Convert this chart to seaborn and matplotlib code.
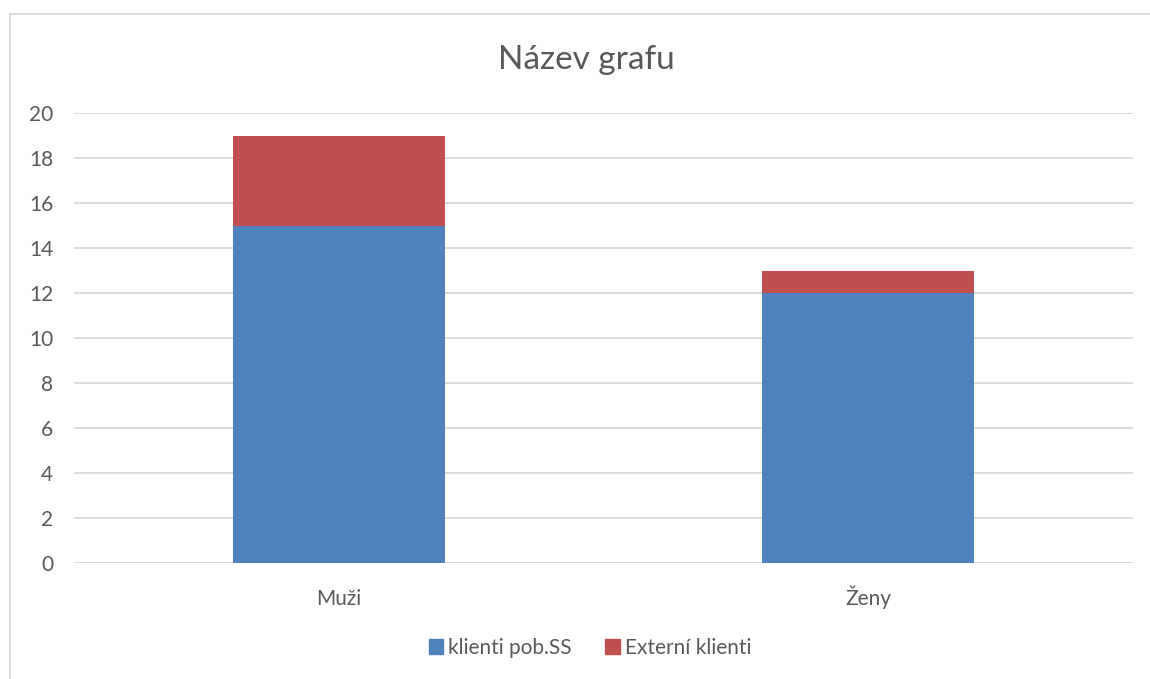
import matplotlib
matplotlib.use("Agg")
import matplotlib.pyplot as plt
import seaborn as sns
import pandas as pd
from matplotlib.patches import Rectangle

categories = ["Muži", "Ženy"]
klienti_pob = [15, 12]
externi = [4, 1]
series_names = ["klienti pob.SS", "Externí klienti"]
yticks = [0, 2, 4, 6, 8, 10, 12, 14, 16, 18, 20]

sns.set_theme(style="white")
plt.rcParams['font.family'] = ['Lato', 'DejaVu Sans']

blue = "#4F81BD"
red = "#C0504D"
txt = "#595959"
grid = "#D9D9D9"

fig = plt.figure(figsize=(11.5, 6.79), dpi=100)
ax = fig.add_axes([74/1150, 1-563/679, (1133-74)/1150, (563-113)/679])

totals = [a + b for a, b in zip(klienti_pob, externi)]
df_tot = pd.DataFrame({"cat": categories, "val": totals})
df_blue = pd.DataFrame({"cat": categories, "val": klienti_pob})

sns.barplot(data=df_tot, x="cat", y="val", color=red, width=0.4, ax=ax,
            saturation=1, zorder=3, linewidth=0)
sns.barplot(data=df_blue, x="cat", y="val", color=blue, width=0.4, ax=ax,
            saturation=1, zorder=4, linewidth=0)
if ax.get_legend() is not None:
    ax.get_legend().remove()

ax.set_ylim(0, 20)
ax.set_xlim(-0.5, 1.5)
ax.set_yticks(yticks)
ax.yaxis.grid(True, color=grid, linewidth=1.3, zorder=0)
ax.set_axisbelow(True)
for s in ax.spines.values():
    s.set_visible(False)
ax.set_xlabel("")
ax.set_ylabel("")
ax.tick_params(axis="both", length=0, colors=txt, labelsize=15)
ax.tick_params(axis="x", pad=30)
ax.tick_params(axis="y", pad=15)
for lab in ax.get_xticklabels():
    lab.set_va("baseline")

fig.text(586/1150, 1-60/679, "Název grafu", ha="center", va="center",
         fontsize=24, color=txt)

hs = [plt.Rectangle((0, 0), 1, 1, color=c) for c in (blue, red)]
leg = fig.legend(hs, series_names, loc="center", bbox_to_anchor=(590/1150, 1-648/679),
                 ncol=2, frameon=False, fontsize=15, handlelength=0.7, handleheight=0.7,
                 handletextpad=0.25, columnspacing=1.6)
for t in leg.get_texts():
    t.set_color(txt)

fig.patches.append(Rectangle((10/1150, -0.2), 1.2, 1-14/679+0.2, transform=fig.transFigure,
                             fill=False, edgecolor=grid, linewidth=1.3))

fig.savefig("out.png", dpi=100, facecolor="white")
